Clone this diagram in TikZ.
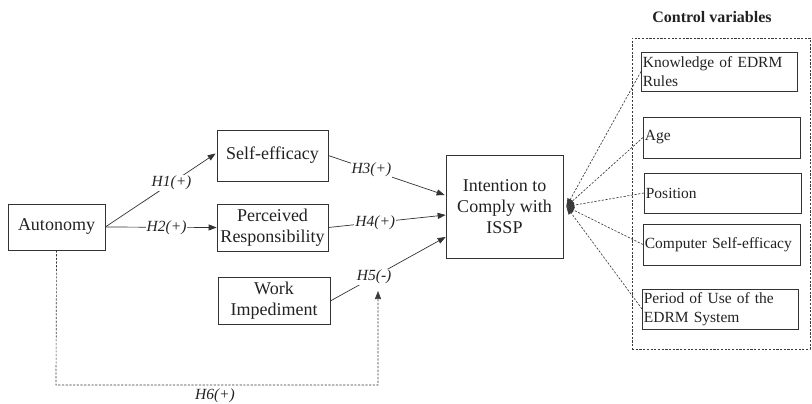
\documentclass[tikz,border=0pt]{standalone}
\usepackage{fontspec}
\setmainfont{Liberation Serif}
\usetikzlibrary{arrows.meta,calc}
\definecolor{edge}{HTML}{333333}
\definecolor{dash}{HTML}{3A3A3A}
\definecolor{txt}{HTML}{222222}
\tikzset{
  box/.style={draw=edge, line width=0.7pt, inner sep=0pt, align=center, text=txt, font=\fontsize{18}{21}\selectfont},
  cbox/.style={draw=edge, line width=0.7pt, inner sep=1.5pt, align=left, anchor=west, minimum height=40pt,
     text width=153pt, text=txt, font=\fontsize{15.5}{18.5}\selectfont},
  arr/.style={line width=0.7pt, draw=edge, -{Triangle[length=8pt,width=6pt]}},
  darr/.style={line width=0.65pt, draw=dash, dash pattern=on 2.2pt off 1.5pt, -{Triangle[length=8pt,width=6pt]}},
  hlab/.style={fill=white, inner sep=1pt, text=txt, font=\fontsize{15.5}{18}\selectfont\itshape},
}
\begin{document}
\begin{tikzpicture}[x=1pt,y=-1pt]
\useasboundingbox (0,0) rectangle (812,404);
% main nodes
\node[box, minimum width=97pt, minimum height=46pt] (auto) at (56.5,227) {Autonomy};
\node[box, minimum width=111pt, minimum height=51pt] (se) at (272.5,155.5) {Self-efficacy};
\node[box, minimum width=111pt, minimum height=47pt] (pr) at (272.5,227.5) {Perceived\\Responsibility};
\node[box, minimum width=112pt, minimum height=47pt] (wi) at (274,300.5) {Work\\Impediment};
\node[box, minimum width=117pt, minimum height=103pt] (int) at (504.5,206.5) {Intention to\\Comply with\\ISSP};
% control variables
\node[text=txt, font=\fontsize{16}{19}\selectfont\bfseries] (cvt) at (712,17) {Control variables};
\node[draw=dash, line width=0.65pt, dash pattern=on 2.2pt off 1.5pt, minimum width=178pt, minimum height=311pt, inner sep=0pt] (cv) at (721,193.5) {};
\node[cbox, minimum height=39pt, text width=153pt] (kn) at (641,71.5) {Knowledge of EDRM\\Rules};
\node[cbox, minimum height=41pt, text width=154pt] (age) at (643,137.5) {Age};
\node[cbox, minimum height=40pt, text width=154pt] (pos) at (644,193) {Position};
\node[cbox, minimum height=41pt, text width=154pt] (cse) at (643,244.5) {Computer Self-efficacy};
\node[cbox, minimum height=40pt, text width=153pt] (per) at (642,309) {Period of Use of the\\EDRM System};
% hypotheses
\draw[arr] (auto.east) -- node[hlab, pos=0.6] {H1(+)} ($(se.west)+(-1,-2)$);
\draw[arr] (auto.east) -- node[hlab, pos=0.55] {H2(+)} (pr.west);
\draw[arr] (se.east) -- node[hlab, pos=0.37] {H3(+)} ($(int.west)+(-1,-11.5)$);
\draw[arr] (pr.east) -- node[hlab, pos=0.4] {H4(+)} ($(int.west)+(0,8.5)$);
\draw[arr] ($(wi.east)+(0,0.5)$) -- node[hlab, pos=0.38] {H5(-)} ($(int.west)+(0,30.5)$);
\coordinate (h6a) at (56,385);
\coordinate (h6b) at (378,385);
\coordinate (h6c) at (378,291);
\draw[darr] (auto.south) -- (h6a) -- (h6b) -- (h6c);
\node[hlab, fill=none] (h6l) at (215,396) {H6(+)};
% control arrows
\foreach \n in {kn,age,pos,cse,per}{
  \draw[darr] (\n.west) -- ($(int.east)+(3,0)$);
}
\end{tikzpicture}
\end{document}
